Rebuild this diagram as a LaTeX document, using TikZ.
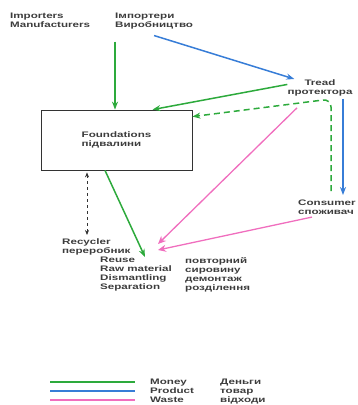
\documentclass[tikz,border=0pt]{standalone}
\usepackage{fontspec}
\setmainfont{Liberation Sans}[FakeStretch=1.45]
\usepackage{xcolor}
\usepackage{tikz}
\usetikzlibrary{arrows.meta,positioning}
\definecolor{moneygreen}{RGB}{45,170,60}
\definecolor{productblue}{RGB}{55,125,215}
\definecolor{wastepink}{RGB}{240,110,190}
\definecolor{inkgrey}{RGB}{60,60,60}

\begin{document}
\begin{tikzpicture}[
  x=1pt, y=-1pt,
  lbl/.style={font=\fontsize{8}{9}\selectfont\bfseries, text=inkgrey, align=left, anchor=north west, inner sep=0pt},
  found/.style={rectangle, draw=black!80, line width=0.8pt, minimum width=151pt, minimum height=60pt, align=left, font=\fontsize{8}{9}\selectfont\bfseries, text=inkgrey},
  money/.style={draw=moneygreen, line width=1.5pt, -{Stealth[length=8pt,width=6pt]}},
  product/.style={draw=productblue, line width=1.5pt, -{Stealth[length=8pt,width=6pt]}},
  waste/.style={draw=wastepink, line width=1.3pt, -{Stealth[length=8pt,width=7pt]}},
  recyc/.style={draw=black!80, line width=0.8pt, dashed, {Stealth[length=5pt,width=4pt]}-{Stealth[length=5pt,width=4pt]}},
  legline/.style={line width=1.5pt},
]
  \useasboundingbox (0,0) rectangle (358,405);

  \node[lbl] (imp) at (10,13) {Importers\\Manufacturers};
  \node[lbl] (impua) at (115,13) {Імпортери\\Виробництво};

  \node[found] (found) at (116.5,140) {Foundations\\підвалини};

  \node[lbl, anchor=north, align=center] (tread) at (320,79) {Tread\\протектора};
  \node[lbl] (cons) at (298,200) {Consumer\\споживач};

  \node[lbl] (recycler) at (62,238) {Recycler\\переробник};
  \node[lbl] (ops) at (100,257) {Reuse\\Raw material\\Dismantling\\Separation};
  \node[lbl] (opsua) at (185,257) {повторний\\сировину\\демонтаж\\розділення};

  \coordinate (bend) at (331,99);
  \coordinate (wastein) at (158,247);
  \coordinate (moneyin) at (145,257);

  \draw[money] ([yshift=-12pt]impua.south west) -- (impua.south west |- found.north);
  \draw[product] ([yshift=-6pt]impua.south) -- ([xshift=7pt]tread.north west);
  \draw[money] ([yshift=3pt]tread.west) -- ([xshift=36pt]found.north);
  \draw[money, dash pattern=on 6pt off 4pt, rounded corners=8pt]
    (bend |- cons.north) ++(0,-9) -- (bend) -- ([yshift=-7pt]found.north east);
  \draw[product] ([xshift=23pt,yshift=-3pt]tread.south) -- ([xshift=45pt,yshift=5pt]cons.north west);
  \draw[waste] ([xshift=-23pt,yshift=-12pt]tread.south) -- ([yshift=3pt]wastein);
  \draw[waste] ([xshift=14pt,yshift=-2pt]cons.south west) -- ([yshift=-3pt]wastein);
  \draw[money] ([xshift=-11.5pt]found.south) -- (moneyin);
  \draw[recyc] ([xshift=-29.5pt,yshift=-2pt]found.south) -- ([xshift=25pt,yshift=3pt]recycler.north west);

  \node[lbl] (leg) at (150,379) {Money\\Product\\Waste};
  \node[lbl] (legua) at (220,379) {Деньги\\товар\\відходи};
  \draw[legline, moneygreen] (50,382) -- (135,382);
  \draw[legline, productblue] (50,391) -- (135,391);
  \draw[legline, wastepink] (50,400) -- (135,400);
\end{tikzpicture}
\end{document}
